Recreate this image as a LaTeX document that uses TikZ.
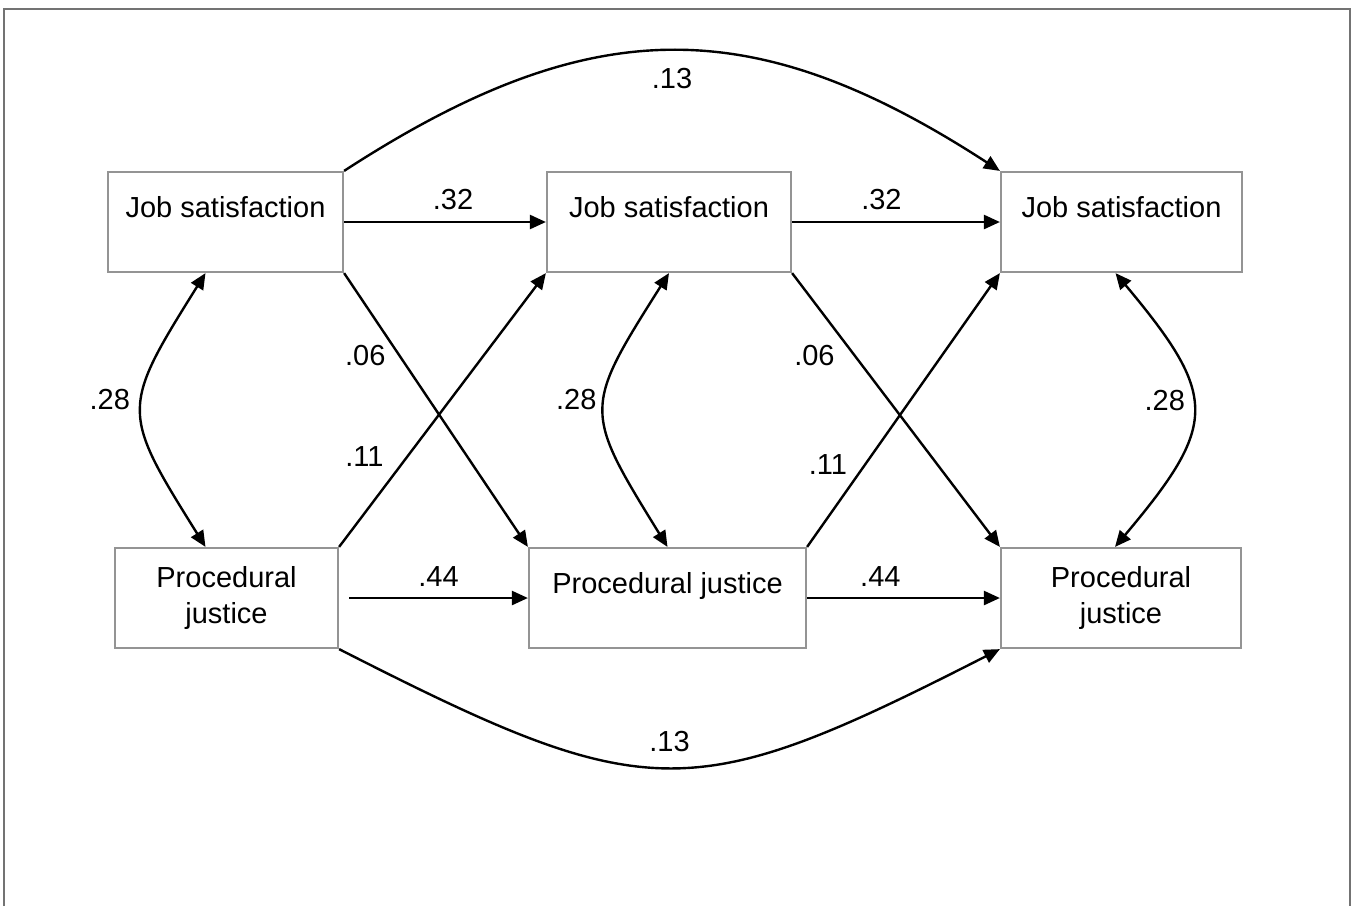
\documentclass[tikz,border=0pt]{standalone}
\usepackage{fontspec}
\setmainfont{Liberation Sans}
\usetikzlibrary{arrows.meta}

\begin{document}
\begin{tikzpicture}[->,>={Triangle[length=8pt,width=7pt]},x=0.5pt,y=0.5pt,
   line width=1.2pt,font=\fontsize{14.5}{18}\selectfont,
   box/.style={draw=black!42,line width=1.1pt,minimum height=50pt,inner sep=3pt,align=center},
   raised/.style={text depth=15pt},
   frame/.style={draw=black!55,line width=1pt,-}]
  \useasboundingbox (0,0) rectangle (1353,-906);
  \draw[frame] (4,-906) -- (4,-9) -- (1350,-9) -- (1350,-906);

  \node[box,raised,minimum width=117.5pt] (JS1) at (225.5,-222) {Job satisfaction};
  \node[box,raised,minimum width=122pt]   (JS2) at (669,-222)   {Job satisfaction};
  \node[box,raised,minimum width=120.5pt] (JS3) at (1121.5,-222) {Job satisfaction};
  \node[box,minimum width=111.5pt]        (PJ1) at (226.5,-598) {Procedural\\justice};
  \node[box,raised,minimum width=138.5pt] (PJ2) at (667.5,-598) {Procedural justice};
  \node[box,minimum width=120pt]          (PJ3) at (1121,-598)  {Procedural\\justice};

  \path
    (JS1.east) edge node[pos=0.54,above=2pt]{.32} (JS2.west)
    (JS2.east) edge node[pos=0.43,above=2pt]{.32} (JS3.west)
    ([xshift=5pt]PJ1.east) edge node[above=2pt]{.44} (PJ2.west)
    (PJ2.east) edge node[pos=0.38,above=2pt]{.44} (PJ3.west)
    (JS1.south east) edge node[pos=0.3,left=3pt]{.06} (PJ2.north west)
    (PJ1.north east) edge node[pos=0.33,left=8pt]{.11} (JS2.south west)
    (JS2.south east) edge node[pos=0.3,left=6pt]{.06} (PJ3.north west)
    (PJ2.north east) edge node[pos=0.3,left=5pt]{.11} (JS3.south west)
    (JS1.north east) edge[out=33,in=147,looseness=1.15] node[below=5pt]{.13} (JS3.north west)
    (PJ1.south east) edge[out=-27,in=-153,looseness=1.35] node[above=4pt]{.13} (PJ3.south west)
    ([xshift=-10pt]JS1.south) edge[<->,bend right=32,looseness=1.5] node[left=2pt,yshift=5pt]{.28} ([xshift=-10.5pt]PJ1.north)
    (JS2.south) edge[<->,bend right=32,looseness=1.5] node[left,yshift=5pt]{.28} (PJ2.north)
    ([xshift=-3pt]JS3.south) edge[<->,bend left=40,looseness=1.5] node[left,yshift=5pt]{.28} ([xshift=-3pt]PJ3.north);
\end{tikzpicture}
\end{document}
